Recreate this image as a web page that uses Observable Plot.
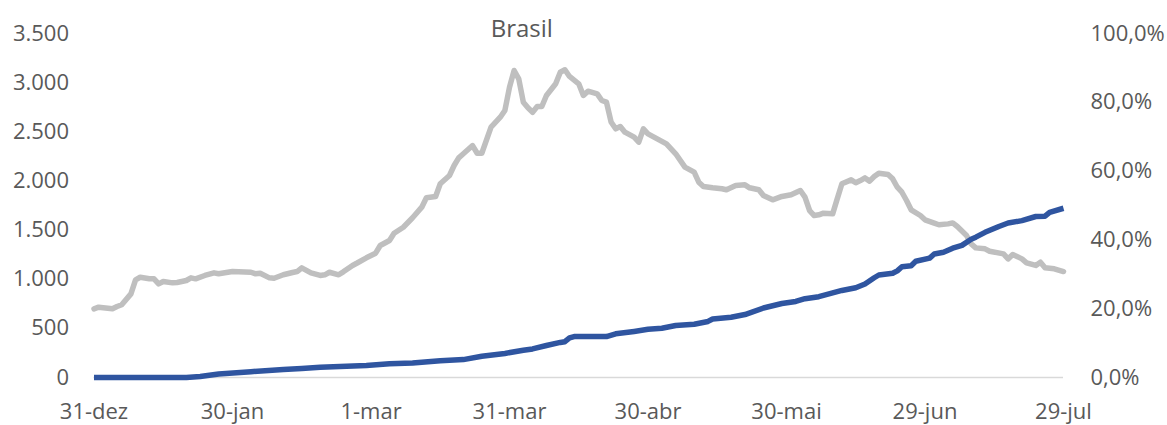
<!DOCTYPE html>
<html>
<head>
<meta charset="utf-8">
<script src="https://cdn.jsdelivr.net/npm/d3@7"></script>
<script src="https://cdn.jsdelivr.net/npm/@observablehq/plot@0.6"></script>
<style>
  html, body { margin: 0; padding: 0; background: #fff; }
  #chart { width: 1167px; height: 425px; }
</style>
</head>
<body>
<div id="chart"></div>
<script>
// Média móvel de óbitos diários (eixo esquerdo)
const deathDates = [
  "2020-12-31","2021-01-01","2021-01-02","2021-01-04","2021-01-05","2021-01-06","2021-01-08","2021-01-09",
  "2021-01-10","2021-01-12","2021-01-13","2021-01-14","2021-01-15","2021-01-17","2021-01-18","2021-01-20",
  "2021-01-21","2021-01-22","2021-01-24","2021-01-26","2021-01-27","2021-01-30","2021-02-03","2021-02-04",
  "2021-02-05","2021-02-07","2021-02-08","2021-02-10","2021-02-12","2021-02-13","2021-02-14","2021-02-16",
  "2021-02-18","2021-02-19","2021-02-20","2021-02-22","2021-02-23","2021-02-25","2021-02-26","2021-02-28",
  "2021-03-02","2021-03-03","2021-03-05","2021-03-06","2021-03-08","2021-03-10","2021-03-12","2021-03-13",
  "2021-03-15","2021-03-16","2021-03-18","2021-03-19","2021-03-20","2021-03-21","2021-03-23","2021-03-24",
  "2021-03-25","2021-03-27","2021-03-29","2021-03-30","2021-03-31","2021-04-01","2021-04-02","2021-04-03",
  "2021-04-04","2021-04-05","2021-04-06","2021-04-07","2021-04-08","2021-04-10","2021-04-11","2021-04-12",
  "2021-04-13","2021-04-15","2021-04-16","2021-04-17","2021-04-19","2021-04-20","2021-04-21","2021-04-22",
  "2021-04-23","2021-04-24","2021-04-25","2021-04-27","2021-04-28","2021-04-29","2021-04-30","2021-05-02",
  "2021-05-04","2021-05-06","2021-05-08","2021-05-10","2021-05-11","2021-05-12","2021-05-14","2021-05-16",
  "2021-05-17","2021-05-19","2021-05-21","2021-05-22","2021-05-24","2021-05-25","2021-05-27","2021-05-29",
  "2021-05-31","2021-06-02","2021-06-03","2021-06-04","2021-06-05","2021-06-06","2021-06-07","2021-06-09",
  "2021-06-10","2021-06-11","2021-06-13","2021-06-14","2021-06-15","2021-06-16","2021-06-17","2021-06-18",
  "2021-06-19","2021-06-21","2021-06-22","2021-06-23","2021-06-24","2021-06-25","2021-06-26","2021-06-28",
  "2021-06-29","2021-07-01","2021-07-02","2021-07-04","2021-07-05","2021-07-06","2021-07-08","2021-07-09",
  "2021-07-10","2021-07-12","2021-07-13","2021-07-16","2021-07-17","2021-07-18","2021-07-20","2021-07-21",
  "2021-07-23","2021-07-24","2021-07-25","2021-07-27","2021-07-29"
];
const deaths = [
  699, 715, 709, 699, 722, 740, 851, 994,
  1020, 1004, 1004, 953, 977, 963, 967, 987,
  1014, 1004, 1038, 1065, 1055, 1078, 1071, 1055,
  1061, 1014, 1010, 1045, 1068, 1078, 1116, 1065,
  1038, 1045, 1071, 1045, 1075, 1140, 1165, 1218,
  1265, 1343, 1394, 1468, 1529, 1625, 1733, 1829,
  1842, 1971, 2055, 2157, 2235, 2276, 2360, 2282,
  2282, 2547, 2648, 2716, 2954, 3124, 3039, 2801,
  2744, 2699, 2757, 2757, 2869, 2988, 3106, 3131,
  3063, 2988, 2869, 2913, 2886, 2818, 2801, 2600,
  2530, 2554, 2496, 2445, 2394, 2530, 2479, 2428,
  2377, 2276, 2140, 2089, 1987, 1943, 1930, 1920,
  1910, 1953, 1960, 1930, 1910, 1852, 1808, 1842,
  1859, 1903, 1835, 1699, 1648, 1655, 1672, 1665,
  1820, 1971, 2011, 1981, 2004, 2031, 1998, 2045,
  2079, 2065, 2021, 1936, 1885, 1801, 1706, 1648,
  1604, 1570, 1554, 1563, 1573, 1536, 1445, 1360,
  1319, 1309, 1285, 1258, 1207, 1251, 1207, 1167,
  1140, 1173, 1116, 1106, 1078
];

// População vacinada, em % (eixo direito)
const vacDates = [
  "2020-12-31","2021-01-20","2021-01-23","2021-01-27","2021-02-03","2021-02-10","2021-02-14","2021-02-18",
  "2021-02-28","2021-03-05","2021-03-10","2021-03-16","2021-03-21","2021-03-25","2021-03-30","2021-04-03",
  "2021-04-05","2021-04-08","2021-04-11","2021-04-12","2021-04-13","2021-04-14","2021-04-21","2021-04-23",
  "2021-04-27","2021-04-30","2021-05-03","2021-05-06","2021-05-10","2021-05-13","2021-05-14","2021-05-18",
  "2021-05-21","2021-05-25","2021-05-29","2021-06-01","2021-06-03","2021-06-06","2021-06-11","2021-06-14",
  "2021-06-16","2021-06-18","2021-06-19","2021-06-22","2021-06-23","2021-06-24","2021-06-26","2021-06-27",
  "2021-06-30","2021-07-01","2021-07-03","2021-07-05","2021-07-07","2021-07-09","2021-07-10","2021-07-12",
  "2021-07-15","2021-07-17","2021-07-20","2021-07-23","2021-07-25","2021-07-26","2021-07-29"
];
const vacPct = [
  0.0, 0.0, 0.3, 1.0, 1.7, 2.3, 2.6, 3.0,
  3.5, 4.0, 4.2, 4.9, 5.2, 6.2, 7.0, 7.9,
  8.3, 9.3, 10.2, 10.4, 11.5, 11.9, 11.9, 12.7,
  13.4, 14.0, 14.3, 15.1, 15.5, 16.3, 17.0, 17.5,
  18.3, 20.2, 21.5, 22.1, 22.9, 23.5, 25.3, 26.1,
  27.2, 29.0, 29.8, 30.3, 31.0, 32.2, 32.5, 33.8,
  34.7, 35.9, 36.4, 37.6, 38.4, 40.2, 40.8, 42.2,
  43.9, 44.9, 45.6, 46.8, 46.9, 48.0, 49.2
];

// Eixos
const leftTicks = [0, 500, 1000, 1500, 2000, 2500, 3000, 3500];
const rightTicks = [0, 20, 40, 60, 80, 100];
const xTickDates = ["2020-12-31","2021-01-30","2021-03-01","2021-03-31","2021-04-30","2021-05-30","2021-06-29","2021-07-29"];
const xTickLabels = ["31-dez","30-jan","1-mar","31-mar","30-abr","30-mai","29-jun","29-jul"];
const title = "Brasil";

const ptBR = d3.formatLocale({decimal: ",", thousands: ".", grouping: [3], currency: ["R$", ""]});
const fmtInt = ptBR.format(",.0f");
const fmtPct = ptBR.format(".1f");

const Y_MAX = leftTicks[leftTicks.length - 1];
const PCT_MAX = rightTicks[rightTicks.length - 1];
const K = Y_MAX / PCT_MAX; // secondary (%) axis drawn on the primary scale

const parse = d3.utcParse("%Y-%m-%d");
const deathData = deathDates.map((d, i) => ({date: parse(d), value: deaths[i]}));
const vacData = vacDates.map((d, i) => ({date: parse(d), value: vacPct[i] * K}));
const xTicks = xTickDates.map(parse);
const labelByTime = new Map(xTicks.map((d, i) => [+d, xTickLabels[i]]));

const chart = Plot.plot({
  width: 1167,
  height: 425,
  marginTop: 33,
  marginBottom: 48,
  marginLeft: 93.5,
  marginRight: 104,
  style: {
    fontFamily: "'Open Sans', 'Noto Sans', sans-serif",
    fontSize: "22px",
    color: "#595959",
    background: "#ffffff"
  },
  x: {type: "utc", domain: [xTicks[0], xTicks[xTicks.length - 1]]},
  y: {domain: [0, Y_MAX]},
  marks: [
    Plot.axisY({ticks: leftTicks, tickFormat: fmtInt, tickSize: 0, tickPadding: 25, label: null}),
    Plot.axisY({anchor: "right", ticks: rightTicks.map(v => v * K),
                tickFormat: v => fmtPct(v / K) + "%", tickSize: 0, tickPadding: 27, label: null}),
    Plot.axisX({ticks: xTicks, tickFormat: d => labelByTime.get(+d), tickSize: 0, tickPadding: 26, label: null}),
    Plot.ruleY([0], {stroke: "#d9d9d9", strokeWidth: 1.5}),
    Plot.lineY(deathData, {x: "date", y: "value", stroke: "#bfbfbf", strokeWidth: 5.5,
                           strokeLinejoin: "round", strokeLinecap: "round"}),
    Plot.lineY(vacData, {x: "date", y: "value", stroke: "#2f55a0", strokeWidth: 5.5,
                         strokeLinejoin: "round", strokeLinecap: "butt"}),
    Plot.text([title], {frameAnchor: "top", lineAnchor: "middle", dx: -57, dy: -4,
                        fontSize: 24, fill: "#595959"})
  ]
});

document.getElementById("chart").appendChild(chart);
</script>
</body>
</html>
